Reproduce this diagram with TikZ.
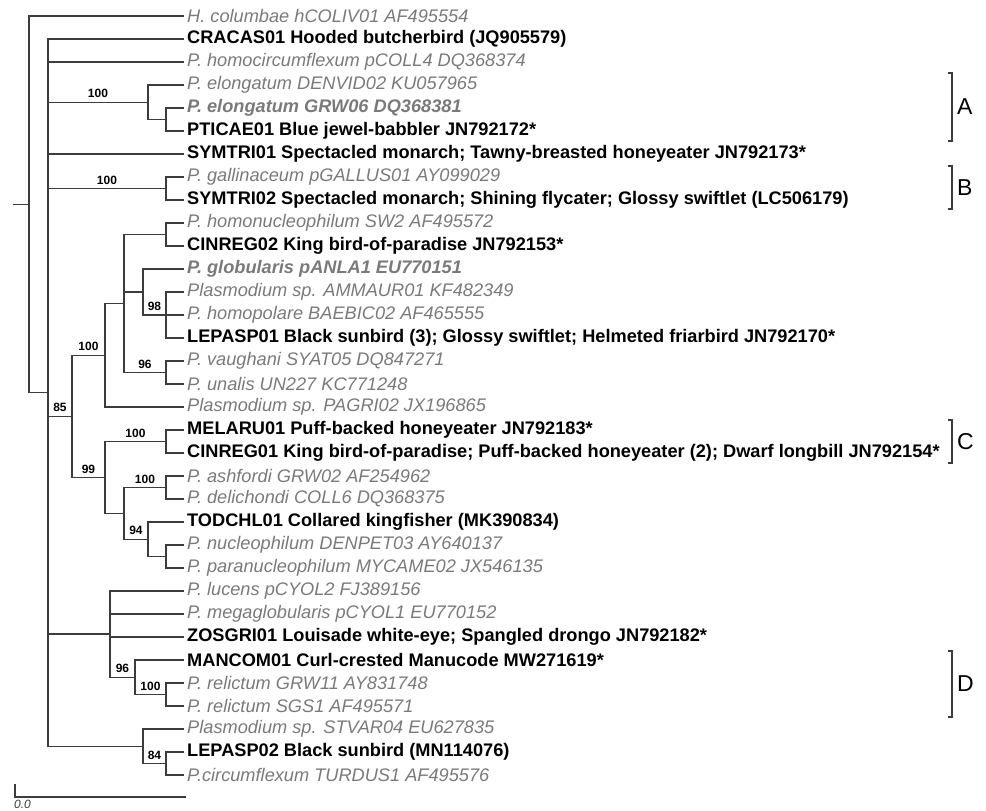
\documentclass[tikz,border=0pt]{standalone}
\usepackage{fontspec}
\setmainfont{Liberation Sans}
\definecolor{treeline}{HTML}{3C3C3C}
\definecolor{leafgray}{HTML}{7A7A7A}
\begin{document}
\begin{tikzpicture}[x=1pt,y=-1pt,
  br/.style={line width=1.4pt, draw=treeline, line cap=rect},
  lf/.style={anchor=west, inner xsep=4pt, inner ysep=0pt},
  gr/.style={lf, text=leafgray, font=\fontsize{18.2}{18.2}\selectfont\itshape},
  grb/.style={lf, text=leafgray, font=\fontsize{18.2}{18.2}\selectfont\bfseries\itshape},
  bk/.style={lf, text=black, font=\fontsize{18.2}{18.2}\selectfont\bfseries},
  boot/.style={font=\fontsize{12}{12}\selectfont\bfseries, anchor=south, inner sep=1pt, yshift=2.5pt},
  bracket/.style={line width=1.2pt, draw=treeline},
  clade/.style={anchor=west, inner sep=0pt, font=\fontsize{23}{23}\selectfont}
]
\useasboundingbox (0,0) rectangle (986,811);

% leaves
\node[gr]  (l1)  at (183,16)  {H. columbae hCOLIV01 AF495554};
\node[bk]  (l2)  at (183,39)  {CRACAS01 Hooded butcherbird (JQ905579)};
\node[gr]  (l3)  at (183,62)  {P. homocircumflexum pCOLL4 DQ368374};
\node[gr]  (l4)  at (183,85)  {P. elongatum DENVID02 KU057965};
\node[grb] (l5)  at (183,108) {P. elongatum GRW06 DQ368381};
\node[bk]  (l6)  at (183,131) {PTICAE01 Blue jewel-babbler JN792172*};
\node[bk]  (l7)  at (183,154) {SYMTRI01 Spectacled monarch; Tawny-breasted honeyeater JN792173*};
\node[gr]  (l8)  at (183,177) {P. gallinaceum pGALLUS01 AY099029};
\node[bk]  (l9)  at (183,200) {SYMTRI02 Spectacled monarch; Shining flycater; Glossy swiftlet (LC506179)};
\node[gr]  (l10) at (183,223) {P. homonucleophilum SW2 AF495572};
\node[bk]  (l11) at (183,246) {CINREG02 King bird-of-paradise JN792153*};
\node[grb] (l12) at (183,269) {P. globularis pANLA1 EU770151};
\node[gr]  (l13) at (183,292) {Plasmodium sp. AMMAUR01 KF482349};
\node[gr]  (l14) at (183,315) {P. homopolare BAEBIC02 AF465555};
\node[bk]  (l15) at (183,338) {LEPASP01 Black sunbird (3); Glossy swiftlet; Helmeted friarbird JN792170*};
\node[gr]  (l16) at (183,361) {P. vaughani SYAT05 DQ847271};
\node[gr]  (l17) at (183,384) {P. unalis UN227 KC771248};
\node[gr]  (l18) at (183,407) {Plasmodium sp. PAGRI02 JX196865};
\node[bk]  (l19) at (183,430) {MELARU01 Puff-backed honeyeater JN792183*};
\node[bk]  (l20) at (183,453) {CINREG01 King bird-of-paradise; Puff-backed honeyeater (2); Dwarf longbill JN792154*};
\node[gr]  (l21) at (183,476) {P. ashfordi GRW02 AF254962};
\node[gr]  (l22) at (183,499) {P. delichondi COLL6 DQ368375};
\node[bk]  (l23) at (183,522) {TODCHL01 Collared kingfisher (MK390834)};
\node[gr]  (l24) at (183,545) {P. nucleophilum DENPET03 AY640137};
\node[gr]  (l25) at (183,568) {P. paranucleophilum MYCAME02 JX546135};
\node[gr]  (l26) at (183,591) {P. lucens pCYOL2 FJ389156};
\node[gr]  (l27) at (183,614) {P. megaglobularis pCYOL1 EU770152};
\node[bk]  (l28) at (183,637) {ZOSGRI01 Louisade white-eye; Spangled drongo JN792182*};
\node[bk]  (l29) at (183,660) {MANCOM01 Curl-crested Manucode MW271619*};
\node[gr]  (l30) at (183,683) {P. relictum GRW11 AY831748};
\node[gr]  (l31) at (183,706) {P. relictum SGS1 AF495571};
\node[gr]  (l32) at (183,729) {Plasmodium sp. STVAR04 EU627835};
\node[bk]  (l33) at (183,752) {LEPASP02 Black sunbird (MN114076)};
\node[gr]  (l34) at (183,775) {P.circumflexum TURDUS1 AF495576};

% internal nodes
\coordinate (stub) at (14,204.3);
\coordinate (root) at (29,204.3);
\coordinate (n2)   at (48,392.6);
\coordinate (nA)   at (148,102.25);
\coordinate (nA2)  at (166,119.5);
\coordinate (nB)   at (166,188.5);
\coordinate (n85)  at (72,416.3);
\coordinate (n100) at (105,355.25);
\coordinate (n124) at (124,303.5);
\coordinate (nHn)  at (166,234.5);
\coordinate (nGlob) at (143,292);
\coordinate (n98)  at (166,315);
\coordinate (nVau) at (166,372.5);
\coordinate (n99)  at (105,477.4);
\coordinate (nMel) at (166,441.5);
\coordinate (n124b) at (124,513.4);
\coordinate (nAsh) at (166,487.5);
\coordinate (n94)  at (148,539.25);
\coordinate (nNuc) at (166,556.5);
\coordinate (nL)   at (110,634.1);
\coordinate (n96)  at (135,677.25);
\coordinate (nRel) at (166,694.5);
\coordinate (nBot) at (143,746.25);
\coordinate (n84)  at (166,763.5);

% branches
\draw[br] (stub) -- (root);
\draw[br] (root) |- (l1.west);
\draw[br] (root) |- (n2);
\draw[br] (n2) |- (l2.west);
\draw[br] (n2) |- (l3.west);
\draw[br] (n2) |- node[boot,pos=0.75]{100} (nA);
\draw[br] (n2) |- (l7.west);
\draw[br] (n2) |- node[boot,pos=0.75]{100} (nB);
\draw[br] (n2) |- node[boot,pos=0.75]{85} (n85);
\draw[br] (n2) |- (nL);
\draw[br] (n2) |- (nBot);
\draw[br] (nA) |- (l4.west);
\draw[br] (nA) |- (nA2);
\draw[br] (nA2) |- (l5.west);
\draw[br] (nA2) |- (l6.west);
\draw[br] (nB) |- (l8.west);
\draw[br] (nB) |- (l9.west);
\draw[br] (n85) |- node[boot,pos=0.75]{100} (n100);
\draw[br] (n85) |- node[boot,pos=0.75]{99} (n99);
\draw[br] (n100) |- (n124);
\draw[br] (n100) |- (l18.west);
\draw[br] (n124) |- (nHn);
\draw[br] (n124) |- (nGlob);
\draw[br] (n124) |- node[boot,pos=0.75]{96} (nVau);
\draw[br] (nHn) |- (l10.west);
\draw[br] (nHn) |- (l11.west);
\draw[br] (nGlob) |- (l12.west);
\draw[br] (nGlob) |- node[boot,pos=0.75]{98} (n98);
\draw[br] (n98) |- (l13.west);
\draw[br] (n98) |- (l14.west);
\draw[br] (n98) |- (l15.west);
\draw[br] (nVau) |- (l16.west);
\draw[br] (nVau) |- (l17.west);
\draw[br] (n99) |- node[boot,pos=0.75]{100} (nMel);
\draw[br] (n99) |- (n124b);
\draw[br] (nMel) |- (l19.west);
\draw[br] (nMel) |- (l20.west);
\draw[br] (n124b) |- node[boot,pos=0.75]{100} (nAsh);
\draw[br] (n124b) |- node[boot,pos=0.75]{94} (n94);
\draw[br] (nAsh) |- (l21.west);
\draw[br] (nAsh) |- (l22.west);
\draw[br] (n94) |- (l23.west);
\draw[br] (n94) |- (nNuc);
\draw[br] (nNuc) |- (l24.west);
\draw[br] (nNuc) |- (l25.west);
\draw[br] (nL) |- (l26.west);
\draw[br] (nL) |- (l27.west);
\draw[br] (nL) |- (l28.west);
\draw[br] (nL) |- node[boot,pos=0.75]{96} (n96);
\draw[br] (n96) |- (l29.west);
\draw[br] (n96) |- node[boot,pos=0.75]{100} (nRel);
\draw[br] (nRel) |- (l30.west);
\draw[br] (nRel) |- (l31.west);
\draw[br] (nBot) |- (l32.west);
\draw[br] (nBot) |- node[boot,pos=0.75]{84} (n84);
\draw[br] (n84) |- (l33.west);
\draw[br] (n84) |- (l34.west);

% clade brackets
\draw[bracket] (948,73) -- (952,73) -- (952,141) -- (948,141);
\node[clade] (cA) at (957,107) {A};
\draw[bracket] (948,166) -- (952,166) -- (952,209) -- (948,209);
\node[clade] (cB) at (957,187.5) {B};
\draw[bracket] (948,420) -- (952,420) -- (952,463) -- (948,463);
\node[clade] (cC) at (957,441.5) {C};
\draw[bracket] (948,651) -- (952,651) -- (952,717) -- (948,717);
\node[clade] (cD) at (957,684) {D};

% scale bar
\coordinate (sb0) at (15,797);
\coordinate (sb1) at (185,797);
\coordinate (sbt) at (15,785);
\draw[br, line width=1.2pt] (sbt) -- (sb0) -- (sb1);
\node[anchor=base west, inner sep=0pt, text=treeline, font=\fontsize{12}{12}\selectfont\itshape] (sblabel) at (14,808.5) {0.0};
\end{tikzpicture}
\end{document}
